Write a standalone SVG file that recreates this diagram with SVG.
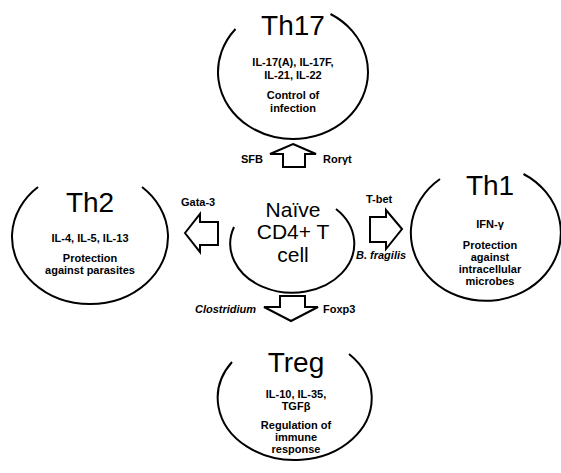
<svg xmlns="http://www.w3.org/2000/svg" width="561" height="473" viewBox="0 0 561 473">
<style>
.cell{fill:none;stroke:#000;stroke-width:2}
.title{font-family:"Liberation Sans",Arial,sans-serif;font-size:28px;text-anchor:middle;fill:#000}
.naive{font-family:"Liberation Sans",Arial,sans-serif;font-size:21px;text-anchor:middle;fill:#000}
.sm{font-family:"Liberation Sans",Arial,sans-serif;font-size:11px;font-weight:bold;text-anchor:middle;fill:#000}
.lbl{font-family:"Liberation Sans",Arial,sans-serif;font-size:11px;font-weight:bold;fill:#000}
.it{font-style:italic}
.arr{fill:#fff;stroke:#000;stroke-width:2;stroke-linejoin:miter}
</style>
<rect width="561" height="473" fill="#fff"/>
<g id="th17">
<path class="cell" d="M235.5,29 A75,67 0 1,0 330.5,14"/>
<text class="title" x="293" y="35">Th17</text>
<text class="sm" x="293" y="66">IL-17(A), IL-17F,</text>
<text class="sm" x="293" y="79">IL-21, IL-22</text>
<text class="sm" x="293" y="99">Control of</text>
<text class="sm" x="293" y="112">infection</text>
</g>
<g id="th2">
<path class="cell" d="M38,187 A78,67 0 1,0 142,187"/>
<text class="title" x="90" y="212">Th2</text>
<text class="sm" x="90" y="242">IL-4, IL-5, IL-13</text>
<text class="sm" x="90" y="262">Protection</text>
<text class="sm" x="90" y="274">against parasites</text>
</g>
<g id="th1">
<path class="cell" d="M440,179 A75,68 0 1,0 523.5,174"/>
<text class="title" x="490" y="195">Th1</text>
<text class="sm" x="490" y="228">IFN-γ</text>
<text class="sm" x="490" y="249">Protection</text>
<text class="sm" x="490" y="261">against</text>
<text class="sm" x="490" y="273">intracellular</text>
<text class="sm" x="490" y="285">microbes</text>
</g>
<g id="naive">
<path class="cell" d="M234,227 A62,49 0 1,0 336,209"/>
<text class="naive" x="293" y="217">Naïve</text>
<text class="naive" x="293" y="239">CD4+ T</text>
<text class="naive" x="293" y="262">cell</text>
</g>
<g id="treg">
<path class="cell" d="M232,362 A77,62 0 1,0 349,354"/>
<text class="title" x="296" y="372">Treg</text>
<text class="sm" x="296" y="398">IL-10, IL-35,</text>
<text class="sm" x="296" y="410">TGFβ</text>
<text class="sm" x="296" y="429">Regulation of</text>
<text class="sm" x="296" y="441">immune</text>
<text class="sm" x="296" y="453">response</text>
</g>
<g id="connectors">
<polygon class="arr" points="293,144 316,154 305,154 305,167 283,167 283,154 270,154"/>
<polygon class="arr" points="185,233 200,214 200,222 218,222 218,245 200,245 200,252"/>
<polygon class="arr" points="402,229 386,210 386,217 370,217 370,242 386,242 386,249"/>
<polygon class="arr" points="291,321 264,307 280,307 280,296 305,296 305,307 318,307"/>
<text class="lbl" x="241" y="163">SFB</text>
<text class="lbl" x="323" y="163">Rorγt</text>
<text class="lbl" x="181" y="206">Gata-3</text>
<text class="lbl" x="366" y="203">T-bet</text>
<text class="lbl it" x="356" y="259">B. fragilis</text>
<text class="lbl it" x="195" y="313">Clostridium</text>
<text class="lbl" x="323" y="313">Foxp3</text>
</g>
</svg>
